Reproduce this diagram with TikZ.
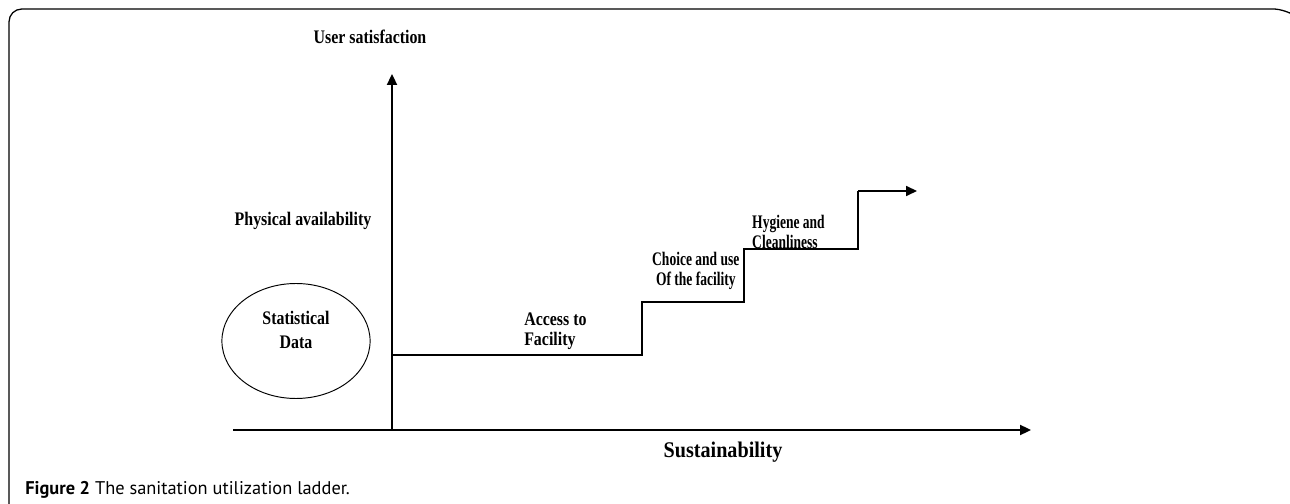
\documentclass[tikz,border=0pt]{standalone}
\usepackage{fontspec}
\setmainfont{Liberation Serif}
\newfontfamily\capfont{PT Sans}
\usetikzlibrary{positioning,shapes.geometric,arrows.meta}

\tikzset{
  lbl/.style={font=\bfseries\fontsize{12}{12.5}\selectfont, inner sep=0pt, xscale=0.83, transform shape},
  steplbl/.style={lbl, xscale=0.85, align=left, anchor=west},
  axis/.style={line width=1.2pt, -{Triangle[length=0.24cm,width=0.22cm]}},
  ladder/.style={line width=0.9pt}
}

\begin{document}
\begin{tikzpicture}[x=0.022cm, y=-0.022cm]
\useasboundingbox (0,0) rectangle (1290,504);

% frame
\draw[line width=0.8pt, rounded corners=8] (9,506) -- (9,9) -- (1286,9) -- (1290,12);

% axes
\coordinate (o) at (392,430);
\coordinate (ytop) at (392,74);
\coordinate (xleft) at (233,430);
\coordinate (xright) at (1031,430);
\draw[axis] (o) -- (ytop);
\draw[axis] (xleft) -- (xright);

\node[lbl] (usersat) at (370,37) {User satisfaction};
\node[lbl] (physav) at (303,221) {Physical availability};
\node[lbl, font=\bfseries\fontsize{14}{15}\selectfont, xscale=1.085] (sustain) at (723,452) {Sustainability};

% statistical data
\node[draw, ellipse, line width=0.6pt, minimum width=3.26cm, minimum height=2.53cm] (stat) at (296,341) {};
\node[lbl, align=center] (statlbl) at (296,330) {Statistical\\[2pt]Data};

% ladder
\coordinate (s0) at (392,355);
\coordinate (s1) at (642,302);
\coordinate (s2) at (744,249);
\coordinate (s3) at (858,191);
\coordinate (send) at (917,191);
\draw[ladder] (s0) -| (s1) -| (s2) -| (s3);
\draw[ladder, -{Triangle[length=0.24cm,width=0.22cm]}] (s3) -- (send);

\node[lbl, align=left, anchor=west] (access) at (524,331) {Access to\\Facility};
\node[steplbl, align=center] (choice) at (652,271) {Choice and use\\Of the facility};
\node[steplbl] (hygiene) at (752,232) {Hygiene and\\Cleanliness};

% caption
\node[anchor=west, inner sep=0pt, font=\capfont\fontsize{11.5}{12}\selectfont] (caption) at (25,490) {\textbf{Figure 2} The sanitation utilization ladder.};
\end{tikzpicture}
\end{document}
